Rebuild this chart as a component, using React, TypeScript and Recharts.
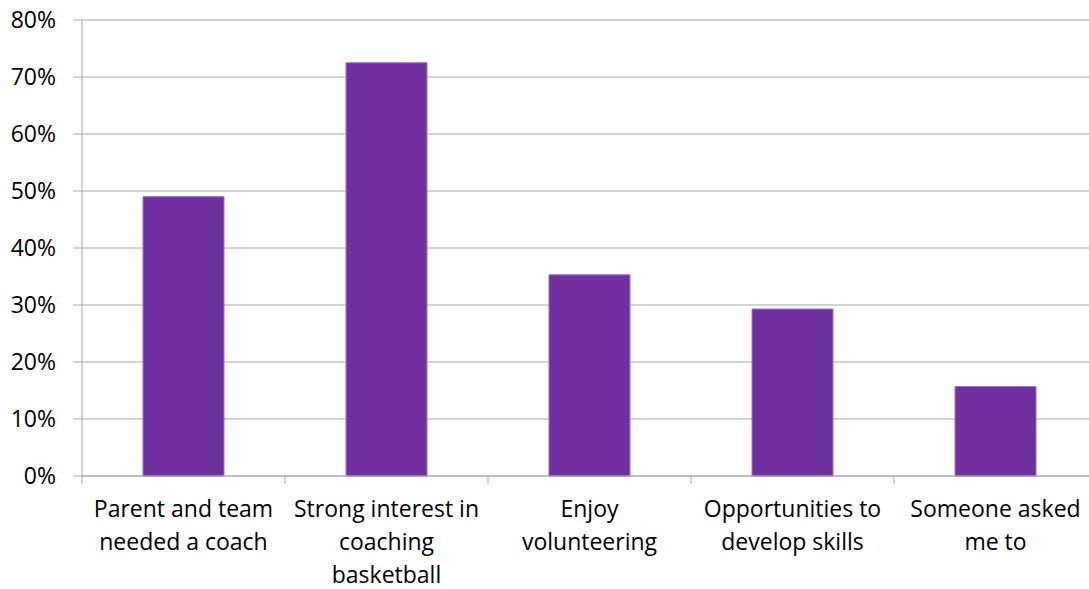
import { BarChart, Bar, XAxis, YAxis, CartesianGrid } from 'recharts'

const categories = [
  'Parent and team\nneeded a coach',
  'Strong interest in\ncoaching\nbasketball',
  'Enjoy\nvolunteering',
  'Opportunities to\ndevelop skills',
  'Someone asked\nme to',
]
const shares = [0.49, 0.725, 0.353, 0.293, 0.157]
const yTicks = [0, 0.1, 0.2, 0.3, 0.4, 0.5, 0.6, 0.7, 0.8]

const data = categories.map((c, i) => ({ cat: c, value: shares[i] }))

const W = 1089
const CHART_W = 1097 // plot area runs a bit past the right edge
const H = 589
const LEFT = 82
const GRID = '#a6a6a6'
const FONT = '"Open Sans", sans-serif'
const bandW = (CHART_W - LEFT) / categories.length

function CatTick({ x, y, payload, index }: any) {
  const lines = String(payload.value).split('\n')
  const left = x - bandW / 2
  return (
    <g>
      <line x1={left} y1={y - 8} x2={left} y2={y} stroke={GRID} strokeWidth={1} />
      {index === categories.length - 1 && (
        <line x1={left + bandW} y1={y - 8} x2={left + bandW} y2={y} stroke={GRID} strokeWidth={1} />
      )}
      <text x={x} y={y} textAnchor="middle" fill="#000" fontFamily={FONT} fontSize={23}>
        {lines.map((l, i) => (
          <tspan key={i} x={x} dy={33}>
            {l}
          </tspan>
        ))}
      </text>
    </g>
  )
}

export default function App() {
  return (
    <div style={{ position: 'absolute', left: 0, top: 0, width: W, height: H, overflow: 'hidden', background: '#fff' }}>
      <BarChart width={CHART_W} height={H} data={data} margin={{ top: 20, right: 0, left: 0, bottom: 0 }} barCategoryGap={0}>
        <CartesianGrid vertical={false} stroke={GRID} strokeWidth={1} />
        <XAxis
          dataKey="cat"
          height={113}
          axisLine={{ stroke: GRID }}
          tickLine={false}
          interval={0}
          tick={<CatTick />}
        />
        <YAxis
          width={LEFT}
          domain={[0, 0.8]}
          ticks={yTicks}
          interval={0}
          axisLine={{ stroke: GRID }}
          tickLine={{ stroke: GRID }}
          tickSize={9}
          tickMargin={17}
          tickFormatter={(v: number) => `${Math.round(v * 100)}%`}
          tick={{ fill: '#000', fontFamily: FONT, fontSize: 23 }}
        />
        <Bar dataKey="value" fill="#7030a0" stroke="#9d72c6" strokeWidth={1} barSize={81} isAnimationActive={false} />
      </BarChart>
    </div>
  )
}
